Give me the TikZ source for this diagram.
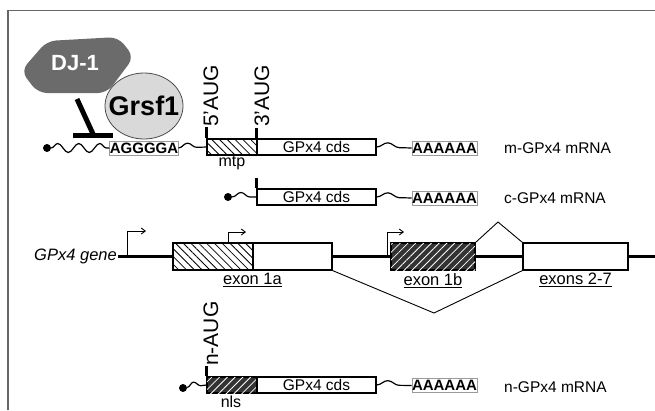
\documentclass[tikz,border=0pt]{standalone}
\usepackage{fontspec}
\setmainfont{Liberation Sans}
\usetikzlibrary{shapes.geometric,patterns.meta,decorations.pathmorphing,arrows.meta}
\definecolor{djgray}{HTML}{6B6B6B}
\definecolor{grsfgray}{HTML}{D9D9D9}
\definecolor{seqgray}{HTML}{9A9A9A}
\begin{document}
\begin{tikzpicture}[x=1pt,y=-1pt,
  box/.style={draw, line width=1.1pt, inner sep=0pt, minimum height=16pt, fill=white},
  seqbox/.style={draw=seqgray, line width=0.8pt, inner sep=0pt, minimum height=14pt, minimum width=65pt, fill=white, font=\fontsize{15}{15}\selectfont\bfseries},
  lbl/.style={font=\fontsize{15.5}{16}\selectfont, inner sep=0pt},
  exlbl/.style={font=\fontsize{16.5}{17}\selectfont, inner sep=0pt, anchor=north},
  wave/.style={line width=1.2pt, decorate, decoration={snake, amplitude=4.5pt, segment length=#1}},
  wave/.default=21pt,
  capdot/.style={circle, fill=black, inner sep=0pt, minimum size=8pt},
  tickline/.style={line width=2.6pt},
  aug/.style={font=\fontsize{21}{21}\selectfont, rotate=90, anchor=west, inner sep=0pt},
  hatchA/.style={postaction={pattern={Lines[angle=-45,distance=5.5pt,line width=0.8pt]}}},
  hatchB/.style={fill=black!80, postaction={pattern={Lines[angle=45,distance=5.5pt,line width=0.8pt]}, pattern color=white}},
  exbox/.style={draw, line width=1.1pt, inner sep=0pt, minimum height=27pt, fill=white},
  prom/.style={line width=0.9pt, -{Straight Barb[length=4pt,width=6pt]}},
  splice/.style={line width=0.9pt},
  inhib/.style={line width=5pt}
]
\fill[white] (0,0) rectangle (655,410);
\useasboundingbox (0,0) rectangle (655,410);
\draw[black!60, line width=1.4pt] (8,410) -- (8,10.5) -- (655,10.5);

% DJ-1 and Grsf1
\path[fill=djgray, rounded corners=9pt] (47,41) -- (118,37) -- (134,57) -- (107,93) -- (38,93) -- (21,71) -- cycle;
\node[text=white, font=\fontsize{22}{22}\selectfont\bfseries, inner sep=0pt] (dj) at (75,63) {DJ-1};
\node[ellipse, draw=black!70, fill=grsfgray, line width=0.8pt, minimum width=78pt, minimum height=66pt, inner sep=0pt] (grsf) at (144,106) {};
\node[font=\fontsize{27}{27}\selectfont\bfseries, inner sep=0pt] (grsft) at (grsf.center) {Grsf1};
\coordinate (t1) at (77,99);
\coordinate (t2) at (93,134);
\coordinate (bl) at (73,135);
\coordinate (br) at (113,135);
\draw[inhib] (t1) -- (t2);
\draw[inhib] (bl) -- (br);

% m-GPx4 mRNA
\node[capdot] (md) at (47,148) {};
\node[seqbox, minimum width=68pt] (mag) at (144,148) {AGGGGA};
\node[box, minimum width=50pt, hatchA] (mmtp) at (232,147) {};
\node[box, minimum width=119pt, lbl] (mcds) at (316.5,147) {GPx4 cds};
\node[seqbox] (mpa) at (444.5,148) {AAAAAA};
\node[lbl, anchor=west] (mlab) at (504,148) {m-GPx4 mRNA};
\node[lbl, font=\fontsize{16}{16}\selectfont] (mtp) at (232,163) {mtp};
\draw[wave] (md) -- (mag.west);
\draw[wave=29pt] (mag.east) -- (mmtp.west);
\draw[wave=36pt] (mcds.east) -- (mpa.west);
\draw[tickline] (mmtp.north west) -- ++(0,-11);
\draw[tickline] (mcds.north west) -- ++(0,-10);
\node[aug] (a5) at (211,127) {5'AUG};
\node[aug] (a3) at (262,127) {3'AUG};

% c-GPx4 mRNA
\node[capdot] (cd) at (228,197) {};
\node[box, minimum width=119pt, lbl] (ccds) at (316.5,197) {GPx4 cds};
\node[seqbox] (cpa) at (444.5,198) {AAAAAA};
\node[lbl, anchor=west] (clab) at (504,198) {c-GPx4 mRNA};
\draw[wave=28pt] (cd) -- (ccds.west);
\draw[wave=36pt] (ccds.east) -- (cpa.west);
\draw[tickline] (ccds.north west) -- ++(0,-10);

% GPx4 gene
\coordinate (gs) at (118,256);
\coordinate (ge) at (655,256);
\draw[line width=3pt] (gs) -- (ge);
\node[font=\fontsize{16.5}{17}\selectfont\itshape, inner sep=0pt, anchor=east] (glab) at (117,256) {GPx4 gene};
\node[exbox, minimum width=80pt, hatchA] (e1a) at (213,256.5) {};
\node[exbox, minimum width=79pt] (e1aw) at (292.5,256.5) {};
\node[exbox, minimum width=84pt, hatchB] (e1b) at (433,256.5) {};
\node[exbox, minimum width=105pt] (e27) at (575.5,256.5) {};
\node[exlbl] (l1a) at (252.5,273) {\underline{exon 1a}};
\node[exlbl] (l1b) at (433,273) {\underline{exon 1b}};
\node[exlbl] (l27) at (575.5,273) {\underline{exons 2-7}};
\coordinate (p1) at (127,256);
\coordinate (p2) at (228,243);
\coordinate (p3) at (387,256);
\draw[prom] (p1) -- ++(0,-25) -- ++(19,0);
\draw[prom] (p2) -- ++(0,-11) -- ++(18,0);
\draw[prom] (p3) -- ++(0,-24) -- ++(17,0);
\coordinate (sp1) at (498,222);
\coordinate (sp2) at (434,313);
\draw[splice] (e1b.north east) -- (sp1) -- (e27.north west);
\draw[splice] (e1aw.south east) -- (sp2) -- (e27.south west);

% n-GPx4 mRNA
\node[capdot] (nd) at (183,388) {};
\node[box, minimum width=50pt, hatchB] (nnls) at (232,385) {};
\node[box, minimum width=119pt, lbl] (ncds) at (316.5,385) {GPx4 cds};
\node[seqbox] (npa) at (444.5,385.5) {AAAAAA};
\node[lbl, anchor=west] (nlab) at (504,387) {n-GPx4 mRNA};
\node[lbl, font=\fontsize{16}{16}\selectfont] (nls) at (231,402) {nls};
\draw[wave=22pt] (nd) -- (nnls.west);
\draw[wave=36pt] (ncds.east) -- (npa.west);
\draw[tickline] (nnls.north west) -- ++(0,-10);
\node[aug] (an) at (211,366) {n-AUG};
\end{tikzpicture}
\end{document}
